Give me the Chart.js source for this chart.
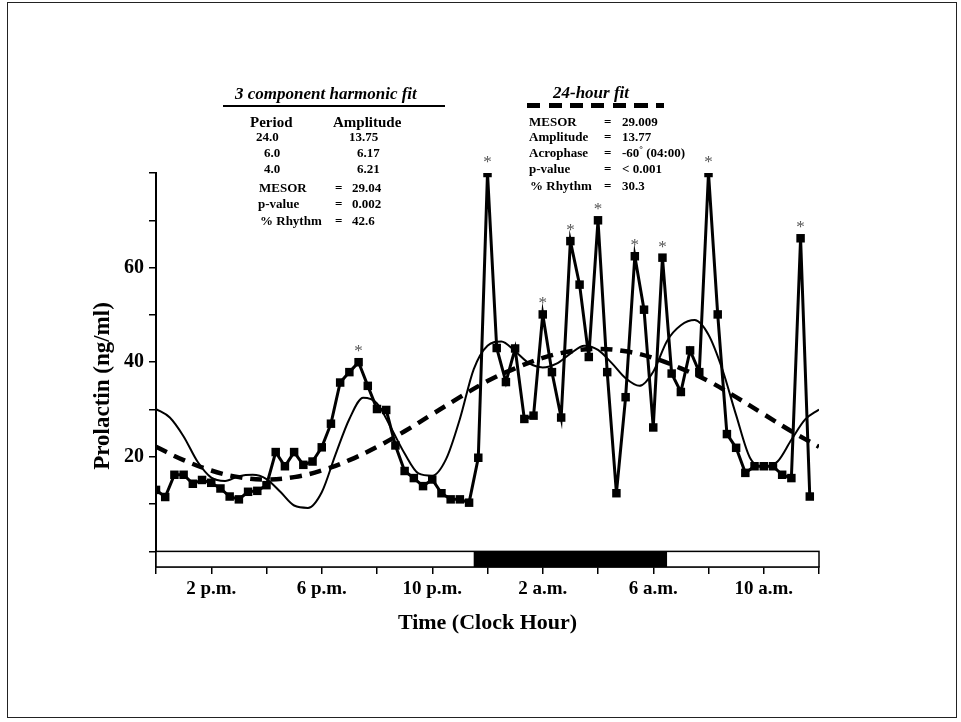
<!DOCTYPE html>
<html>
<head>
<meta charset="utf-8">
<title>Prolactin rhythm</title>
<script src="https://cdn.jsdelivr.net/npm/chart.js@4.4.1/dist/chart.umd.min.js"></script>
<style>
  body { margin: 0; background: #fff; }
  #wrap { position: relative; width: 961px; height: 722px; overflow: hidden; }
  #frame { position: absolute; left: 7px; top: 2px; width: 950px; height: 716px; box-sizing: border-box; border: 1.5px solid #222; }
  canvas { position: absolute; left: 0; top: 0; }
  .t { position: absolute; font-family: 'Liberation Serif', 'Times New Roman', serif; font-weight: bold; font-size: 13px; line-height: 16px; white-space: nowrap; color: #000; }
  .big { font-size: 15px; line-height: 18px; }
  .head { font-size: 17px; line-height: 20px; font-style: italic; }
  .deg { font-size: 9px; position: relative; top: -5px; line-height: 0; }
  .rule { position: absolute; height: 0; border-top: 2.5px solid #000; }
  .dash { position: absolute; height: 4.5px; background: repeating-linear-gradient(to right, #000 0 13px, transparent 13px 21.5px); }
</style>
</head>
<body>
<div id="wrap">
  <canvas id="chart" width="961" height="722"></canvas>
  <div id="frame"></div>

  <!-- 3 component harmonic fit block -->
  <div class="t head" style="left:235px; top:84px;">3 component harmonic fit</div>
  <div class="rule" style="left:223px; top:105px; width:222px;"></div>
  <div class="t big" style="left:250px; top:113px;">Period</div>
  <div class="t big" style="left:333px; top:113px;">Amplitude</div>
  <div class="t" style="left:256px; top:129px;">24.0</div>
  <div class="t" style="left:349px; top:129px;">13.75</div>
  <div class="t" style="left:264px; top:145px;">6.0</div>
  <div class="t" style="left:357px; top:145px;">6.17</div>
  <div class="t" style="left:264px; top:161px;">4.0</div>
  <div class="t" style="left:357px; top:161px;">6.21</div>
  <div class="t" style="left:259px; top:180px;">MESOR</div>
  <div class="t" style="left:335px; top:180px;">=</div>
  <div class="t" style="left:352px; top:180px;">29.04</div>
  <div class="t" style="left:258px; top:196px;">p-value</div>
  <div class="t" style="left:335px; top:196px;">=</div>
  <div class="t" style="left:352px; top:196px;">0.002</div>
  <div class="t" style="left:260px; top:213px;">% Rhythm</div>
  <div class="t" style="left:335px; top:213px;">=</div>
  <div class="t" style="left:352px; top:213px;">42.6</div>

  <!-- 24-hour fit block -->
  <div class="t head" style="left:553px; top:83px;">24-hour fit</div>
  <div class="dash" style="left:527px; top:103px; width:137px;"></div>
  <div class="t" style="left:529px; top:114px;">MESOR</div>
  <div class="t" style="left:604px; top:114px;">=</div>
  <div class="t" style="left:622px; top:114px;">29.009</div>
  <div class="t" style="left:529px; top:129px;">Amplitude</div>
  <div class="t" style="left:604px; top:129px;">=</div>
  <div class="t" style="left:622px; top:129px;">13.77</div>
  <div class="t" style="left:529px; top:145px;">Acrophase</div>
  <div class="t" style="left:604px; top:145px;">=</div>
  <div class="t" style="left:622px; top:145px;">-60<span class="deg">°</span> (04:00)</div>
  <div class="t" style="left:529px; top:161px;">p-value</div>
  <div class="t" style="left:604px; top:161px;">=</div>
  <div class="t" style="left:622px; top:161px;">&lt; 0.001</div>
  <div class="t" style="left:530px; top:178px;">% Rhythm</div>
  <div class="t" style="left:604px; top:178px;">=</div>
  <div class="t" style="left:622px; top:178px;">30.3</div>
</div>

<script>
// prolactin samples, every 20 min from 12:00 (hours past midnight of day 1)
const firstSample = 12
const sampleStep = 1 / 3
const prolactin = [13.0, 11.5, 16.2, 16.2, 14.3, 15.1, 14.5, 13.3, 11.6, 11.0, 12.6, 12.8,
  14.0, 21.0, 18.0, 21.0, 18.3, 19.0, 22.0, 27.0, 35.7, 37.9, 40.0, 35.0,
  30.1, 29.9, 22.4, 17.0, 15.5, 13.8, 15.2, 12.3, 11.0, 11.0, 10.3, 19.8,
  80.0, 43.0, 35.8, 42.9, 28.0, 28.7, 50.1, 37.9, 28.3, 65.6, 56.4, 41.1,
  70.0, 37.9, 12.3, 32.6, 62.4, 51.1, 26.2, 62.1, 37.6, 33.7, 42.5, 37.9,
  80.0, 50.1, 24.8, 21.9, 16.6, 18.0, 18.0, 18.0, 16.2, 15.5, 66.2, 11.6]
// points flagged with an asterisk
const significant = [22, 36, 42, 45, 48, 52, 55, 60, 70]

// 3 component harmonic fit, read every half hour 12:00 .. 36:00
const harmonicHours = [12, 12.5, 13, 13.5, 14, 14.5, 15, 15.5, 16, 16.5, 17, 17.5, 18, 18.5, 19, 19.5,
  20, 20.5, 21, 21.5, 22, 22.5, 23, 23.5, 24, 24.5, 25, 25.5, 26, 26.5, 27, 27.5,
  28, 28.5, 29, 29.5, 30, 30.5, 31, 31.5, 32, 32.5, 33, 33.5, 34, 34.5, 35, 35.5, 36]
const harmonicFit = [30.1, 28.3, 24.3, 19.0, 15.6, 14.9, 15.9, 16.2, 15.3, 12.6, 9.7, 9.2, 12.5, 20.5, 28.0, 32.5,
  31.3, 26.2, 20.7, 16.5, 16.0, 19.5, 28.0, 38.5, 43.5, 44.4, 42.3, 39.8, 38.9, 39.7, 41.8, 43.5,
  42.6, 39.8, 36.6, 35.0, 38.0, 44.5, 47.8, 48.9, 45.8, 38.5, 28.8, 19.8, 17.9, 19.0, 23.6, 27.9, 30.0]

// 24-hour cosine fit, read every hour 12:00 .. 36:00
const dailyHours = [12, 13, 14, 15, 16, 17, 18, 19, 20, 21, 22, 23, 24, 25, 26, 27, 28, 29, 30, 31, 32, 33, 34, 35, 36]
const dailyFit = [22.1, 19.3, 17.1, 15.7, 15.2, 15.7, 17.1, 19.3, 22.1, 25.4, 29.0, 32.6, 36.0,
  38.7, 40.9, 42.3, 42.8, 42.3, 40.9, 38.7, 36.0, 32.6, 29.0, 25.4, 22.1]

// axes
const hourTicks = [12, 14, 16, 18, 20, 22, 24, 26, 28, 30, 32, 34, 36]
const clockLabels = {14: '2 p.m.', 18: '6 p.m.', 22: '10 p.m.', 26: '2 a.m.', 30: '6 a.m.', 34: '10 a.m.'}
const yTicks = [0, 10, 20, 30, 40, 50, 60, 70, 80]
const yLabelled = [20, 40, 60]
const yTitle = 'Prolactin (ng/ml)'
// lights-off period
const darkStart = 23.5
const darkEnd = 30.5

const sampleTimes = prolactin.map((v, i) => firstSample + i * sampleStep)

Chart.defaults.font.family = "'Liberation Serif', 'Times New Roman', serif"
Chart.defaults.color = '#000'

const nightBar = {
  id: 'nightBar',
  beforeDatasetsDraw(chart) {
    const {ctx, scales: {x, y}} = chart
    const left = x.getPixelForValue(x.min)
    const right = x.getPixelForValue(x.max)
    const top = y.getPixelForValue(0)
    const bottom = y.getPixelForValue(y.min)
    const d0 = x.getPixelForValue(darkStart)
    const d1 = x.getPixelForValue(darkEnd)
    ctx.save()
    ctx.fillStyle = '#fff'
    ctx.fillRect(left, top, right - left, bottom - top)
    ctx.fillStyle = '#000'
    ctx.fillRect(d0, top, d1 - d0, bottom - top)
    ctx.strokeStyle = '#000'
    ctx.lineWidth = 1.5
    ctx.strokeRect(left, top, right - left, bottom - top)
    ctx.restore()
  }
}

const stars = {
  id: 'stars',
  afterDatasetsDraw(chart) {
    const meta = chart.getDatasetMeta(0)
    const ctx = chart.ctx
    ctx.save()
    ctx.fillStyle = '#555'
    ctx.font = "17px 'Liberation Serif'"
    ctx.textAlign = 'center'
    ctx.textBaseline = 'alphabetic'
    significant.forEach(i => {
      const p = meta.data[i]
      ctx.fillText('*', p.x, p.y - 6)
    })
    ctx.restore()
  }
}

// y title drawn by hand, it sits a bit below the middle of the axis
const sideTitle = {
  id: 'sideTitle',
  afterDraw(chart) {
    const {ctx, chartArea} = chart
    ctx.save()
    ctx.translate(103, (chartArea.top + chartArea.bottom) / 2 + 16)
    ctx.rotate(-Math.PI / 2)
    ctx.font = "bold 23px 'Liberation Serif'"
    ctx.fillStyle = '#000'
    ctx.textAlign = 'center'
    ctx.textBaseline = 'middle'
    ctx.fillText(yTitle, 0, 0)
    ctx.restore()
  }
}

new Chart(document.getElementById('chart'), {
  type: 'line',
  data: {
    datasets: [
      {
        label: 'Prolactin',
        data: sampleTimes.map((t, i) => ({x: t, y: prolactin[i]})),
        borderColor: '#000',
        backgroundColor: '#000',
        borderWidth: 3,
        pointStyle: 'rect',
        pointRadius: 6,
        pointBorderWidth: 0,
        tension: 0
      },
      {
        label: '3 component harmonic fit',
        data: harmonicHours.map((t, i) => ({x: t, y: harmonicFit[i]})),
        borderColor: '#000',
        borderWidth: 2,
        pointRadius: 0,
        cubicInterpolationMode: 'monotone'
      },
      {
        label: '24-hour fit',
        data: dailyHours.map((t, i) => ({x: t, y: dailyFit[i]})),
        borderColor: '#000',
        borderWidth: 4.5,
        borderDash: [12, 8],
        pointRadius: 0,
        tension: 0.4
      }
    ]
  },
  options: {
    responsive: false,
    animation: false,
    layout: {padding: {left: 89, top: 173, right: 142, bottom: 85}},
    plugins: {legend: {display: false}, tooltip: {enabled: false}},
    scales: {
      x: {
        type: 'linear',
        min: 12,
        max: 36,
        afterBuildTicks: axis => { axis.ticks = hourTicks.map(v => ({value: v})) },
        afterFit: axis => { axis.height = 70 },
        ticks: {
          autoSkip: false,
          maxRotation: 0,
          padding: 4,
          font: {size: 19, weight: 'bold'},
          callback: v => clockLabels[v] || ''
        },
        grid: {drawOnChartArea: false, drawTicks: true, tickLength: 7, color: '#000', lineWidth: 1.5},
        border: {color: '#000', width: 1.5},
        title: {display: true, text: 'Time (Clock Hour)', font: {size: 22, weight: 'bold'}, padding: 0}
      },
      y: {
        min: -3.3,
        max: 80,
        afterBuildTicks: axis => { axis.ticks = yTicks.map(v => ({value: v})) },
        afterFit: axis => { axis.width = 67 },
        ticks: {
          padding: 5,
          font: {size: 20, weight: 'bold'},
          callback: v => yLabelled.includes(v) ? String(v) : ''
        },
        grid: {drawOnChartArea: false, drawTicks: true, tickLength: 7, color: '#000', lineWidth: 1.5},
        border: {color: '#000', width: 2}
      }
    }
  },
  plugins: [nightBar, stars, sideTitle]
})
</script>
</body>
</html>
